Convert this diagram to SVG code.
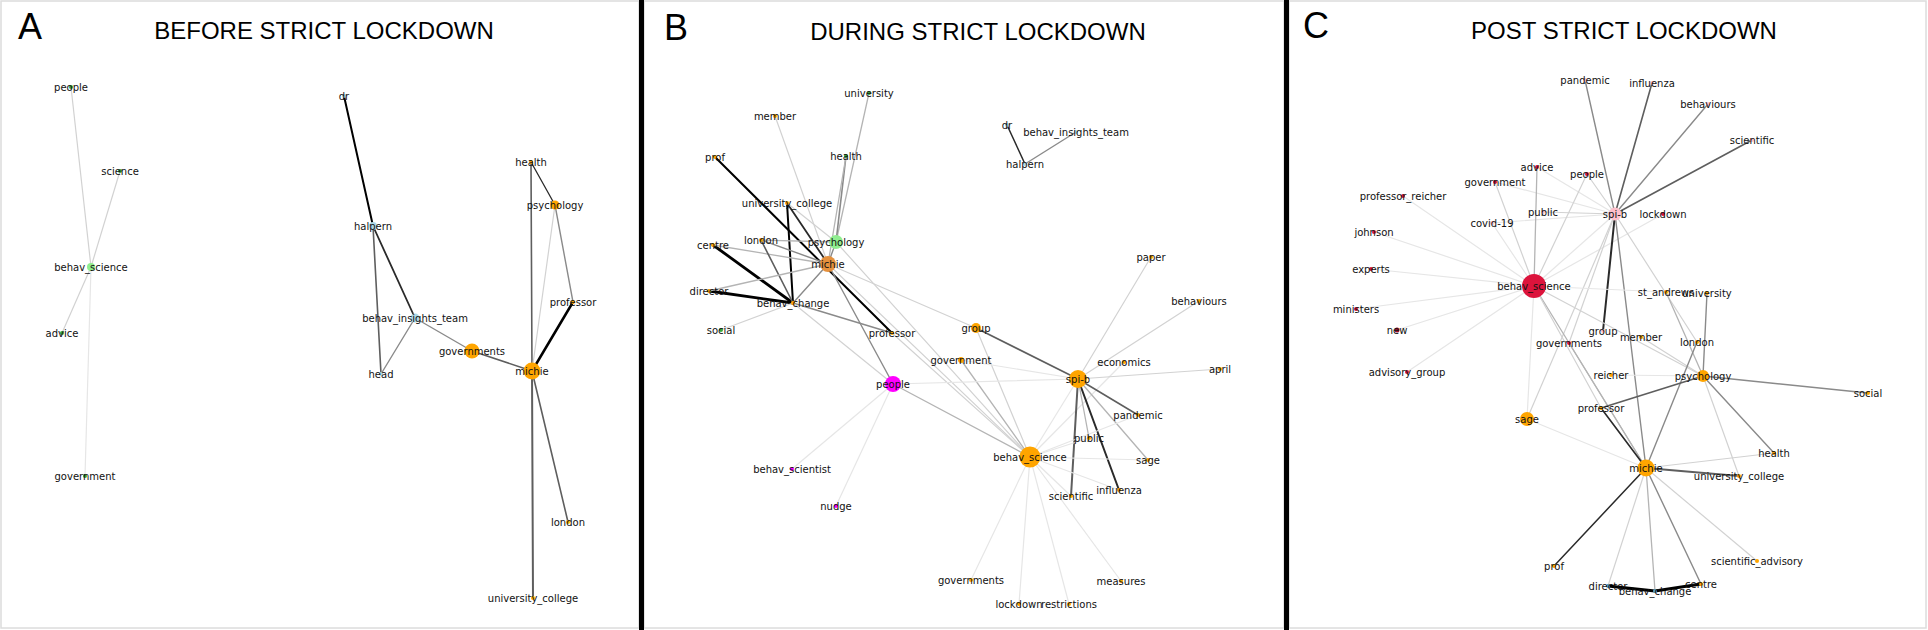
<svg xmlns="http://www.w3.org/2000/svg" width="1928" height="630" viewBox="0 0 1928 630">
<style>
.frame{fill:#fff;stroke:#dcdcdc;stroke-width:1.5}
.bar{fill:#000}
.ttl{font-family:"Liberation Sans",Arial,sans-serif;font-size:24px;fill:#000;text-anchor:middle}
.let{font-family:"Liberation Sans",Arial,sans-serif;font-size:36px;fill:#000}
.lb{font-family:"DejaVu Sans",Verdana,sans-serif;font-size:10px;fill:#111;text-anchor:middle}
line{stroke-linecap:round}
.w1{stroke:#e6e6e6;stroke-width:1.2}
.w2{stroke:#d2d2d2;stroke-width:1.2}
.w3{stroke:#b4b4b4;stroke-width:1.3}
.w4{stroke:#8a8a8a;stroke-width:1.4}
.w5{stroke:#5e5e5e;stroke-width:1.6}
.w6{stroke:#2a2a2a;stroke-width:1.8}
.w7{stroke:#000;stroke-width:2.5}
.og{fill:#FFA500}
.gr{fill:#90EE90}
.dg{fill:#3aa83a}
.lbu{fill:#ADD8E6}
.mg{fill:#FF00FF}
.rd{fill:#DC143C}
.pk{fill:#FFC0CB}
.yl{fill:#FFB300}
</style>
<rect class="frame" x="1" y="1" width="638" height="627"/>
<rect class="frame" x="644" y="1" width="640" height="627"/>
<rect class="frame" x="1289" y="1" width="637" height="627"/>
<rect class="bar" x="639" y="0" width="5" height="630"/>
<rect class="bar" x="1284" y="0" width="5" height="630"/>
<g id="titles">
<text class="let" x="18" y="39">A</text>
<text class="ttl" x="324" y="39">BEFORE STRICT LOCKDOWN</text>
<text class="let" x="664" y="40">B</text>
<text class="ttl" x="978" y="40">DURING STRICT LOCKDOWN</text>
<text class="let" x="1303" y="38">C</text>
<text class="ttl" x="1624" y="39">POST STRICT LOCKDOWN</text>
</g>
<g id="connectors">
<!-- Panel A -->
<line class="w2" x1="71" y1="87" x2="91" y2="267"/>
<line class="w2" x1="120" y1="171" x2="91" y2="267"/>
<line class="w2" x1="91" y1="267" x2="62" y2="333"/>
<line class="w1" x1="91" y1="267" x2="85" y2="476"/>
<line class="w7" style="stroke-width:2" x1="344" y1="96" x2="373" y2="226"/>
<line class="w5" x1="373" y1="226" x2="381" y2="374"/>
<line class="w6" x1="373" y1="226" x2="415" y2="318"/>
<line class="w4" x1="415" y1="318" x2="381" y2="374"/>
<line class="w4" x1="415" y1="318" x2="472" y2="351"/>
<line class="w5" x1="472" y1="351" x2="532" y2="371"/>
<line class="w5" x1="531" y1="162" x2="532" y2="371"/>
<line class="w6" style="stroke-width:1.3" x1="531" y1="162" x2="555" y2="205"/>
<line class="w4" x1="555" y1="205" x2="573" y2="302"/>
<line class="w2" x1="555" y1="205" x2="532" y2="371"/>
<line class="w7" x1="573" y1="302" x2="532" y2="371"/>
<line class="w5" x1="532" y1="371" x2="568" y2="522"/>
<line class="w5" style="stroke-width:2" x1="532" y1="371" x2="533" y2="598"/>
<!-- Panel B -->
<line class="w6" style="stroke-width:1.5" x1="1007" y1="125" x2="1025" y2="164"/>
<line class="w4" x1="1025" y1="164" x2="1076" y2="132"/>
<line class="w7" style="stroke-width:2" x1="715" y1="157" x2="892" y2="333"/>
<line class="w7" style="stroke-width:2" x1="787" y1="203" x2="793" y2="303"/>
<line class="w6" x1="787" y1="203" x2="828" y2="264"/>
<line class="w2" x1="787" y1="203" x2="836" y2="242"/>
<line class="w7" style="stroke-width:2.8" x1="713" y1="245" x2="793" y2="303"/>
<line class="w7" style="stroke-width:2.8" x1="709" y1="291" x2="793" y2="303"/>
<line class="w3" x1="713" y1="245" x2="828" y2="264"/>
<line class="w3" x1="761" y1="240" x2="836" y2="242"/>
<line class="w4" x1="761" y1="240" x2="828" y2="264"/>
<line class="w5" x1="761" y1="240" x2="793" y2="303"/>
<line class="w3" x1="709" y1="291" x2="828" y2="264"/>
<line class="w4" x1="793" y1="303" x2="828" y2="264"/>
<line class="w2" x1="721" y1="330" x2="793" y2="303"/>
<line class="w2" x1="775" y1="116" x2="828" y2="264"/>
<line class="w3" x1="869" y1="93" x2="836" y2="242"/>
<line class="w4" style="stroke-width:1.6" x1="846" y1="156" x2="836" y2="242"/>
<line class="w3" x1="846" y1="156" x2="828" y2="264"/>
<line class="w4" x1="836" y1="242" x2="828" y2="264"/>
<line class="w4" x1="828" y1="264" x2="893" y2="384"/>
<line class="w4" x1="793" y1="303" x2="892" y2="333"/>
<line class="w2" x1="793" y1="303" x2="893" y2="384"/>
<line class="w2" x1="828" y1="264" x2="976" y2="328"/>
<line class="w2" x1="836" y1="242" x2="1030" y2="457"/>
<line class="w2" x1="828" y1="264" x2="1030" y2="457"/>
<line class="w2" x1="892" y1="333" x2="1030" y2="457"/>
<line class="w3" x1="893" y1="384" x2="1030" y2="457"/>
<line class="w2" x1="976" y1="328" x2="1030" y2="457"/>
<line class="w3" x1="961" y1="360" x2="1030" y2="457"/>
<line class="w5" x1="976" y1="328" x2="1078" y2="379"/>
<line class="w1" x1="961" y1="360" x2="1078" y2="379"/>
<line class="w1" x1="893" y1="384" x2="1078" y2="379"/>
<line class="w2" x1="1151" y1="257" x2="1078" y2="379"/>
<line class="w2" x1="1199" y1="301" x2="1078" y2="379"/>
<line class="w1" x1="1124" y1="362" x2="1030" y2="457"/>
<line class="w2" x1="1220" y1="369" x2="1078" y2="379"/>
<line class="w5" x1="1078" y1="379" x2="1138" y2="415"/>
<line class="w3" x1="1078" y1="379" x2="1148" y2="460"/>
<line class="w5" style="stroke-width:2" x1="1078" y1="379" x2="1071" y2="496"/>
<line class="w6" style="stroke-width:2" x1="1078" y1="379" x2="1119" y2="490"/>
<line class="w3" x1="1078" y1="379" x2="1089" y2="438"/>
<line class="w1" x1="1078" y1="379" x2="1030" y2="457"/>
<line class="w1" x1="1030" y1="457" x2="1089" y2="438"/>
<line class="w1" x1="1030" y1="457" x2="1138" y2="415"/>
<line class="w1" x1="1030" y1="457" x2="1148" y2="460"/>
<line class="w1" x1="1030" y1="457" x2="1119" y2="490"/>
<line class="w1" x1="1030" y1="457" x2="1071" y2="496"/>
<line class="w1" x1="1030" y1="457" x2="971" y2="580"/>
<line class="w1" x1="1030" y1="457" x2="1019" y2="604"/>
<line class="w1" x1="1030" y1="457" x2="1069" y2="604"/>
<line class="w1" x1="1030" y1="457" x2="1121" y2="581"/>
<line class="w1" x1="893" y1="384" x2="792" y2="469"/>
<line class="w1" x1="893" y1="384" x2="836" y2="506"/>
<!-- Panel C -->
<line class="w4" x1="1615" y1="214" x2="1585" y2="80"/>
<line class="w5" x1="1615" y1="214" x2="1652" y2="83"/>
<line class="w4" x1="1615" y1="214" x2="1708" y2="104"/>
<line class="w5" x1="1615" y1="214" x2="1752" y2="140"/>
<line class="w2" x1="1615" y1="214" x2="1587" y2="174"/>
<line class="w1" x1="1615" y1="214" x2="1537" y2="167"/>
<line class="w1" x1="1615" y1="214" x2="1495" y2="182"/>
<line class="w2" x1="1615" y1="214" x2="1543" y2="212"/>
<line class="w1" x1="1615" y1="214" x2="1492" y2="223"/>
<line class="w1" x1="1663" y1="214" x2="1534" y2="286"/>
<line class="w6" style="stroke-width:2" x1="1615" y1="214" x2="1603" y2="331"/>
<line class="w4" x1="1615" y1="214" x2="1646" y2="468"/>
<line class="w2" x1="1615" y1="214" x2="1569" y2="343"/>
<line class="w2" x1="1615" y1="214" x2="1697" y2="342"/>
<line class="w2" x1="1615" y1="214" x2="1527" y2="419"/>
<line class="w1" x1="1615" y1="214" x2="1534" y2="286"/>
<line class="w1" x1="1534" y1="286" x2="1403" y2="196"/>
<line class="w1" x1="1534" y1="286" x2="1374" y2="232"/>
<line class="w1" x1="1534" y1="286" x2="1371" y2="269"/>
<line class="w1" x1="1534" y1="286" x2="1356" y2="309"/>
<line class="w1" x1="1534" y1="286" x2="1397" y2="330"/>
<line class="w1" x1="1534" y1="286" x2="1407" y2="372"/>
<line class="w1" x1="1534" y1="286" x2="1527" y2="419"/>
<line class="w2" x1="1534" y1="286" x2="1495" y2="182"/>
<line class="w1" x1="1534" y1="286" x2="1492" y2="223"/>
<line class="w3" x1="1534" y1="286" x2="1537" y2="167"/>
<line class="w2" x1="1534" y1="286" x2="1587" y2="174"/>
<line class="w1" x1="1534" y1="286" x2="1666" y2="292"/>
<line class="w2" x1="1534" y1="286" x2="1703" y2="376"/>
<line class="w3" x1="1534" y1="286" x2="1646" y2="468"/>
<line class="w2" x1="1534" y1="286" x2="1601" y2="408"/>
<line class="w1" x1="1527" y1="419" x2="1646" y2="468"/>
<line class="w3" x1="1569" y1="343" x2="1646" y2="468"/>
<line class="w1" x1="1611" y1="375" x2="1703" y2="376"/>
<line class="w2" x1="1641" y1="337" x2="1703" y2="376"/>
<line class="w3" x1="1666" y1="292" x2="1703" y2="376"/>
<line class="w4" x1="1707" y1="293" x2="1703" y2="376"/>
<line class="w4" x1="1697" y1="342" x2="1646" y2="468"/>
<line class="w5" x1="1703" y1="376" x2="1601" y2="408"/>
<line class="w6" style="stroke-width:1.6" x1="1601" y1="408" x2="1646" y2="468"/>
<line class="w4" style="stroke-width:1.6" x1="1703" y1="376" x2="1868" y2="393"/>
<line class="w4" x1="1703" y1="376" x2="1774" y2="453"/>
<line class="w2" x1="1703" y1="376" x2="1739" y2="476"/>
<line class="w2" x1="1646" y1="468" x2="1774" y2="453"/>
<line class="w5" style="stroke-width:2" x1="1646" y1="468" x2="1739" y2="476"/>
<line class="w6" style="stroke-width:1.5" x1="1646" y1="468" x2="1554" y2="566"/>
<line class="w2" x1="1646" y1="468" x2="1608" y2="586"/>
<line class="w3" x1="1646" y1="468" x2="1655" y2="591"/>
<line class="w4" x1="1646" y1="468" x2="1701" y2="584"/>
<line class="w2" x1="1646" y1="468" x2="1757" y2="561"/>
<line class="w7" style="stroke-width:3" x1="1608" y1="586" x2="1655" y2="591"/>
<line class="w7" style="stroke-width:3" x1="1655" y1="591" x2="1701" y2="584"/>
</g>
<!-- Panel A nodes -->
<g id="a-people"><circle class="dg" cx="71" cy="87" r="2"/><text class="lb" x="71" y="90.5">people</text></g>
<g id="a-science"><circle class="dg" cx="120" cy="171" r="2"/><text class="lb" x="120" y="174.5">science</text></g>
<g id="a-behav_science"><circle class="gr" cx="91" cy="267" r="4"/><text class="lb" x="91" y="270.5">behav_science</text></g>
<g id="a-advice"><circle class="dg" cx="62" cy="333" r="2"/><text class="lb" x="62" y="336.5">advice</text></g>
<g id="a-government"><circle class="dg" cx="85" cy="476" r="2"/><text class="lb" x="85" y="479.5">government</text></g>
<g id="a-dr"><circle class="lbu" cx="344" cy="96" r="2"/><text class="lb" x="344" y="99.5">dr</text></g>
<g id="a-halpern"><circle class="lbu" cx="373" cy="226" r="4"/><text class="lb" x="373" y="229.5">halpern</text></g>
<g id="a-behav_insights_team"><circle class="lbu" cx="415" cy="318" r="4.5"/><text class="lb" x="415" y="321.5">behav_insights_team</text></g>
<g id="a-head"><circle class="lbu" cx="381" cy="374" r="2"/><text class="lb" x="381" y="377.5">head</text></g>
<g id="a-governments"><circle class="og" cx="472" cy="351" r="7.5"/><text class="lb" x="472" y="354.5">governments</text></g>
<g id="a-michie"><circle class="og" cx="532" cy="371" r="8.5"/><text class="lb" x="532" y="374.5">michie</text></g>
<g id="a-health"><circle class="og" cx="531" cy="162" r="2"/><text class="lb" x="531" y="165.5">health</text></g>
<g id="a-psychology"><circle class="og" cx="555" cy="205" r="4.5"/><text class="lb" x="555" y="208.5">psychology</text></g>
<g id="a-professor"><circle class="og" cx="573" cy="302" r="2"/><text class="lb" x="573" y="305.5">professor</text></g>
<g id="a-london"><circle class="yl" cx="568" cy="522" r="2"/><text class="lb" x="568" y="525.5">london</text></g>
<g id="a-university_college"><circle class="yl" cx="533" cy="598" r="2"/><text class="lb" x="533" y="601.5">university_college</text></g>
<!-- Panel B nodes -->
<g id="b-university"><circle class="dg" cx="869" cy="93" r="2"/><text class="lb" x="869" y="96.5">university</text></g>
<g id="b-member"><circle class="og" cx="775" cy="116" r="2"/><text class="lb" x="775" y="119.5">member</text></g>
<g id="b-dr"><circle class="lbu" cx="1007" cy="125" r="2"/><text class="lb" x="1007" y="128.5">dr</text></g>
<g id="b-behav_insights_team"><circle class="lbu" cx="1076" cy="132" r="2"/><text class="lb" x="1076" y="135.5">behav_insights_team</text></g>
<g id="b-halpern"><circle class="lbu" cx="1025" cy="164" r="2"/><text class="lb" x="1025" y="167.5">halpern</text></g>
<g id="b-prof"><circle class="og" cx="715" cy="157" r="2"/><text class="lb" x="715" y="160.5">prof</text></g>
<g id="b-health"><circle class="dg" cx="846" cy="156" r="2"/><text class="lb" x="846" y="159.5">health</text></g>
<g id="b-university_college"><circle class="og" cx="787" cy="203" r="2"/><text class="lb" x="787" y="206.5">university_college</text></g>
<g id="b-london"><circle class="og" cx="761" cy="240" r="2"/><text class="lb" x="761" y="243.5">london</text></g>
<g id="b-centre"><circle class="og" cx="713" cy="245" r="2"/><text class="lb" x="713" y="248.5">centre</text></g>
<g id="b-psychology"><circle class="gr" cx="836" cy="242" r="7"/><text class="lb" x="836" y="245.5">psychology</text></g>
<g id="b-michie"><circle fill="#E5913E" cx="828" cy="264" r="8"/><text class="lb" x="828" y="267.5">michie</text></g>
<g id="b-director"><circle class="og" cx="709" cy="291" r="2"/><text class="lb" x="709" y="294.5">director</text></g>
<g id="b-behav_change"><circle class="og" cx="793" cy="303" r="2"/><text class="lb" x="793" y="306.5">behav_change</text></g>
<g id="b-social"><circle class="dg" cx="721" cy="330" r="2"/><text class="lb" x="721" y="333.5">social</text></g>
<g id="b-professor"><circle class="og" cx="892" cy="333" r="2"/><text class="lb" x="892" y="336.5">professor</text></g>
<g id="b-group"><circle class="og" cx="976" cy="328" r="5"/><text class="lb" x="976" y="331.5">group</text></g>
<g id="b-government"><circle class="og" cx="961" cy="360" r="3"/><text class="lb" x="961" y="363.5">government</text></g>
<g id="b-people"><circle class="mg" cx="893" cy="384" r="8"/><text class="lb" x="893" y="387.5">people</text></g>
<g id="b-spi-b"><circle class="og" cx="1078" cy="379" r="9"/><text class="lb" x="1078" y="382.5">spi-b</text></g>
<g id="b-economics"><circle class="og" cx="1124" cy="362" r="2"/><text class="lb" x="1124" y="365.5">economics</text></g>
<g id="b-paper"><circle class="og" cx="1151" cy="257" r="2"/><text class="lb" x="1151" y="260.5">paper</text></g>
<g id="b-behaviours"><circle class="og" cx="1199" cy="301" r="2"/><text class="lb" x="1199" y="304.5">behaviours</text></g>
<g id="b-april"><circle class="og" cx="1220" cy="369" r="2"/><text class="lb" x="1220" y="372.5">april</text></g>
<g id="b-pandemic"><circle class="og" cx="1138" cy="415" r="2"/><text class="lb" x="1138" y="418.5">pandemic</text></g>
<g id="b-public"><circle class="og" cx="1089" cy="438" r="2"/><text class="lb" x="1089" y="441.5">public</text></g>
<g id="b-behav_science"><circle class="og" cx="1030" cy="457" r="10.5"/><text class="lb" x="1030" y="460.5">behav_science</text></g>
<g id="b-sage"><circle class="og" cx="1148" cy="460" r="2"/><text class="lb" x="1148" y="463.5">sage</text></g>
<g id="b-scientific"><circle class="og" cx="1071" cy="496" r="2"/><text class="lb" x="1071" y="499.5">scientific</text></g>
<g id="b-influenza"><circle class="og" cx="1119" cy="490" r="2"/><text class="lb" x="1119" y="493.5">influenza</text></g>
<g id="b-behav_scientist"><circle class="mg" cx="792" cy="469" r="2"/><text class="lb" x="792" y="472.5">behav_scientist</text></g>
<g id="b-nudge"><circle class="mg" cx="836" cy="506" r="2"/><text class="lb" x="836" y="509.5">nudge</text></g>
<g id="b-governments"><circle class="og" cx="971" cy="580" r="2"/><text class="lb" x="971" y="583.5">governments</text></g>
<g id="b-lockdown"><circle class="og" cx="1019" cy="604" r="2"/><text class="lb" x="1019" y="607.5">lockdown</text></g>
<g id="b-restrictions"><circle class="og" cx="1069" cy="604" r="2"/><text class="lb" x="1069" y="607.5">restrictions</text></g>
<g id="b-measures"><circle class="og" cx="1121" cy="581" r="2"/><text class="lb" x="1121" y="584.5">measures</text></g>
<!-- Panel C nodes -->
<g id="c-pandemic"><circle class="pk" cx="1585" cy="80" r="2"/><text class="lb" x="1585" y="83.5">pandemic</text></g>
<g id="c-influenza"><circle class="pk" cx="1652" cy="83" r="2"/><text class="lb" x="1652" y="86.5">influenza</text></g>
<g id="c-behaviours"><circle class="pk" cx="1708" cy="104" r="2"/><text class="lb" x="1708" y="107.5">behaviours</text></g>
<g id="c-scientific"><circle class="pk" cx="1752" cy="140" r="2"/><text class="lb" x="1752" y="143.5">scientific</text></g>
<g id="c-advice"><circle class="rd" cx="1537" cy="167" r="2"/><text class="lb" x="1537" y="170.5">advice</text></g>
<g id="c-people"><circle class="rd" cx="1587" cy="174" r="2"/><text class="lb" x="1587" y="177.5">people</text></g>
<g id="c-government"><circle class="rd" cx="1495" cy="182" r="2"/><text class="lb" x="1495" y="185.5">government</text></g>
<g id="c-professor_reicher"><circle class="rd" cx="1403" cy="196" r="2"/><text class="lb" x="1403" y="199.5">professor_reicher</text></g>
<g id="c-spi-b"><circle class="pk" cx="1615" cy="214" r="6.5"/><text class="lb" x="1615" y="217.5">spi-b</text></g>
<g id="c-lockdown"><circle class="rd" cx="1663" cy="214" r="2"/><text class="lb" x="1663" y="217.5">lockdown</text></g>
<g id="c-public"><circle class="pk" cx="1543" cy="212" r="2"/><text class="lb" x="1543" y="215.5">public</text></g>
<g id="c-covid-19"><circle class="pk" cx="1492" cy="223" r="2"/><text class="lb" x="1492" y="226.5">covid-19</text></g>
<g id="c-johnson"><circle class="rd" cx="1374" cy="232" r="2"/><text class="lb" x="1374" y="235.5">johnson</text></g>
<g id="c-experts"><circle class="rd" cx="1371" cy="269" r="2"/><text class="lb" x="1371" y="272.5">experts</text></g>
<g id="c-behav_science"><circle class="rd" cx="1534" cy="286" r="12"/><text class="lb" x="1534" y="289.5">behav_science</text></g>
<g id="c-st_andrews"><circle class="og" cx="1666" cy="292" r="2"/><text class="lb" x="1666" y="295.5">st_andrews</text></g>
<g id="c-university"><circle class="og" cx="1707" cy="293" r="2"/><text class="lb" x="1707" y="296.5">university</text></g>
<g id="c-ministers"><circle class="rd" cx="1356" cy="309" r="2"/><text class="lb" x="1356" y="312.5">ministers</text></g>
<g id="c-new"><circle fill="#a0102a" cx="1397" cy="330" r="2.5"/><text class="lb" x="1397" y="333.5">new</text></g>
<g id="c-group"><circle class="pk" cx="1603" cy="331" r="2"/><text class="lb" x="1603" y="334.5">group</text></g>
<g id="c-member"><circle class="og" cx="1641" cy="337" r="2"/><text class="lb" x="1641" y="340.5">member</text></g>
<g id="c-governments"><circle class="rd" cx="1569" cy="343" r="2"/><text class="lb" x="1569" y="346.5">governments</text></g>
<g id="c-london"><circle class="og" cx="1697" cy="342" r="2"/><text class="lb" x="1697" y="345.5">london</text></g>
<g id="c-advisory_group"><circle class="rd" cx="1407" cy="372" r="2"/><text class="lb" x="1407" y="375.5">advisory_group</text></g>
<g id="c-reicher"><circle class="og" cx="1611" cy="375" r="2"/><text class="lb" x="1611" y="378.5">reicher</text></g>
<g id="c-psychology"><circle class="og" cx="1703" cy="376" r="6"/><text class="lb" x="1703" y="379.5">psychology</text></g>
<g id="c-social"><circle class="og" cx="1868" cy="393" r="2"/><text class="lb" x="1868" y="396.5">social</text></g>
<g id="c-professor"><circle class="og" cx="1601" cy="408" r="2"/><text class="lb" x="1601" y="411.5">professor</text></g>
<g id="c-sage"><circle class="og" cx="1527" cy="419" r="7"/><text class="lb" x="1527" y="422.5">sage</text></g>
<g id="c-health"><circle class="og" cx="1774" cy="453" r="2"/><text class="lb" x="1774" y="456.5">health</text></g>
<g id="c-michie"><circle class="og" cx="1646" cy="468" r="8.5"/><text class="lb" x="1646" y="471.5">michie</text></g>
<g id="c-university_college"><circle class="og" cx="1739" cy="476" r="2"/><text class="lb" x="1739" y="479.5">university_college</text></g>
<g id="c-scientific_advisory"><circle class="og" cx="1757" cy="561" r="2"/><text class="lb" x="1757" y="564.5">scientific_advisory</text></g>
<g id="c-prof"><circle class="og" cx="1554" cy="566" r="2"/><text class="lb" x="1554" y="569.5">prof</text></g>
<g id="c-director"><circle fill="#5aa0c8" cx="1608" cy="586" r="2"/><text class="lb" x="1608" y="589.5">director</text></g>
<g id="c-behav_change"><circle fill="#5aa0c8" cx="1655" cy="591" r="2"/><text class="lb" x="1655" y="594.5">behav_change</text></g>
<g id="c-centre"><circle class="og" cx="1701" cy="584" r="2"/><text class="lb" x="1701" y="587.5">centre</text></g>
</svg>
